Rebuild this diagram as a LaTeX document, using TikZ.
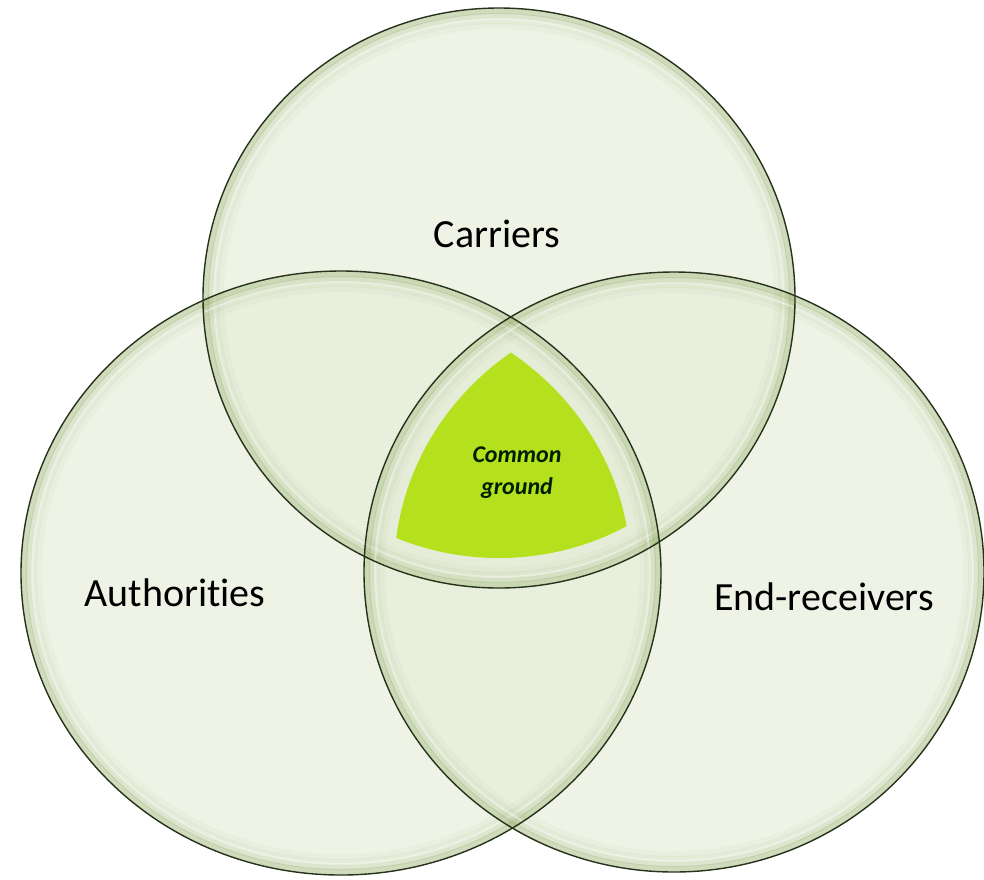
\documentclass[tikz,border=0pt]{standalone}
\usepackage{fontspec}
\setmainfont{Carlito}[Ligatures=NoCommon]
\usepackage{tikz}

\definecolor{setfill}{RGB}{228,236,215}
\definecolor{setrim}{RGB}{118,148,66}
\definecolor{setline}{RGB}{38,50,26}
\definecolor{coregreen}{RGB}{180,224,30}

\begin{document}
\begin{tikzpicture}[
	x=0.5pt,
	y=-0.5pt,
	set fill/.style={fill=setfill,fill opacity=0.62},
	set glow/.style={draw=setrim,draw opacity=#1,line width=3pt},
	set shine/.style={draw=white,draw opacity=0.45,line width=1pt},
	set edge/.style={draw=setline,line width=0.7pt},
	set label/.style={font=\fontsize{20}{24}\selectfont,text=black},
	core label/.style={font=\fontsize{12}{16}\selectfont\bfseries\itshape,text=black!80!green!60!black,align=center}
]
\useasboundingbox (0,0) rectangle (984,879);

\coordinate (carriers) at (499,298);
\coordinate (authorities) at (341,573);
\coordinate (receivers) at (674,572);

% the three sets
\foreach \s/\rx/\ry in {carriers/296/290,authorities/320/302,receivers/310/300}
	\fill[set fill] (\s) ellipse [x radius=\rx, y radius=\ry];
\foreach \s/\rx/\ry in {carriers/296/290,authorities/320/302,receivers/310/300}{
	\foreach \d/\o in {3/0.25,8/0.14,13/0.08,18/0.04}
		\draw[set glow=\o] (\s) ellipse [x radius=\rx-\d, y radius=\ry-\d];
	\draw[set shine] (\s) ellipse [x radius=\rx-11, y radius=\ry-11];
}

% common ground
\begin{scope}
	\clip (authorities) ellipse [x radius=290, y radius=272];
	\clip (receivers) ellipse [x radius=280, y radius=270];
	\fill[coregreen] (carriers) ellipse [x radius=266, y radius=260];
\end{scope}

\foreach \s/\rx/\ry in {carriers/296/290,authorities/320/302,receivers/310/300}
	\draw[set edge] (\s) ellipse [x radius=\rx, y radius=\ry];

\node[set label] (carriers label) at (497,234) {Carriers};
\node[set label] (authorities label) at (175,593) {Authorities};
\node[set label] (receivers label) at (824,597) {End-receivers};
\node[core label] (core) at (517,473) {Common\\ground};
\end{tikzpicture}
\end{document}
